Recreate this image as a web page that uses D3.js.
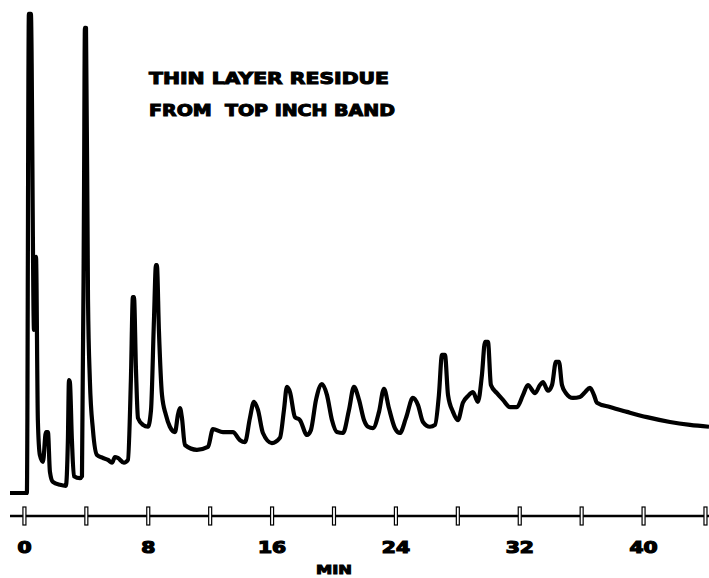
<!DOCTYPE html>
<html>
<head>
<meta charset="utf-8">
<script src="https://cdn.jsdelivr.net/npm/d3@7"></script>
<style>
  body { margin: 0; background: #fff; }
  svg { display: block; }
</style>
</head>
<body>
<div id="container"></div>
<script>
/* CONSTANTS AND GLOBALS */
const width = 709,
  height = 578;

// retention time (min) and detector signal (% of full scale)
const times = [-0.9, 0.19, 0.32, 0.45, 0.65, 0.78, 0.90, 1.03, 1.23, 1.42, 1.55, 1.68, 1.87,
  2.33, 2.71, 2.84, 2.91, 2.97, 3.10, 3.23, 3.62, 3.75, 3.88, 3.94, 4.01, 4.14, 4.26, 4.46,
  4.72, 5.10, 5.43, 5.69, 5.88, 6.07, 6.46, 6.72, 6.91, 7.04, 7.11, 7.24, 7.37, 7.69, 8.01,
  8.21, 8.40, 8.53, 8.59, 8.72, 8.92, 9.17, 9.43, 9.76, 9.95, 10.08, 10.21, 10.40, 11.18,
  11.89, 12.21, 12.86, 13.50, 13.96, 14.28, 14.60, 14.86, 15.12, 15.44, 16.02, 16.54, 16.80,
  16.99, 17.19, 17.51, 17.83, 18.29, 18.54, 18.87, 19.25, 19.58, 19.90, 20.22, 20.61, 21.00,
  21.32, 21.65, 21.97, 22.23, 22.55, 22.94, 23.26, 23.58, 23.97, 24.29, 24.68, 25.13, 25.46,
  25.78, 26.23, 26.56, 26.81, 27.01, 27.20, 27.40, 27.72, 28.04, 28.36, 28.69, 29.01, 29.33,
  29.59, 29.79, 29.98, 30.17, 30.56, 30.95, 31.40, 31.85, 32.24, 32.56, 33.02, 33.34, 33.53,
  33.86, 34.12, 34.37, 34.57, 34.76, 35.02, 35.47, 35.92, 36.25, 36.57, 36.83, 37.02, 37.86,
  38.96, 40.25, 41.74, 43.03, 44.26];

const signal = [0, 0, 99.8, 99.8, 34.0, 49.2, 15.2, 7.9, 6.5, 12.7, 12.7, 4.4, 2.3,
  1.7, 1.5, 11.0, 23.5, 23.1, 11.0, 3.5, 3.1, 3.5, 61.0, 96.9, 96.9, 40.2, 23.5, 13.1,
  7.9, 7.3, 6.9, 6.3, 7.5, 7.3, 6.3, 6.9, 23.5, 40.8, 40.8, 25.6, 15.6, 14.2, 13.8,
  17.3, 36.0, 47.5, 47.5, 34.0, 20.4, 16.3, 13.8, 12.7, 16.3, 17.7, 15.6, 10.0, 9.0,
  9.6, 13.3, 12.7, 12.7, 11.0, 10.6, 15.6, 19.0, 17.3, 12.5, 10.4, 11.5, 17.3,
  22.1, 21.0, 15.8, 15.2, 12.1, 13.1, 19.4, 22.7, 20.4, 15.2, 12.7, 12.5, 17.3,
  22.1, 19.4, 15.2, 13.8, 13.5, 16.9, 21.7, 17.7, 13.5, 12.5, 15.6, 19.8, 18.3,
  14.8, 13.8, 14.2, 20.4, 28.8, 28.8, 20.4, 16.9, 15.2, 18.8, 20.2, 21.0, 19.0,
  24.6, 31.5, 31.5, 22.5, 20.8, 19.4, 17.9, 17.9, 20.4, 22.5, 20.8, 22.5, 23.1,
  21.3, 22.5, 27.3, 27.3, 22.5, 20.8, 19.8, 20.0, 21.0, 21.9, 20.4, 18.8, 17.9,
  16.9, 15.8, 14.8, 14.2, 13.8];

const tickTimes = [0, 4, 8, 12, 16, 20, 24, 28, 32, 36, 40, 44];
const tickLabels = [0, 8, 16, 24, 32, 40];
const titleLines = ["THIN LAYER RESIDUE", "FROM  TOP INCH BAND"];
const axisTitle = "MIN";

const data = times.map((t, i) => ({ t: t, v: signal[i] }));

/* SCALES */
const x = d3.scaleLinear().domain([-0.9, 44.26]).range([10, 709]);
const y = d3.scaleLinear().domain([0, 100]).range([493, 13]);

/* SVG */
const svg = d3.select("#container")
  .append("svg")
  .attr("width", width)
  .attr("height", height);

// trace
const line = d3.line()
  .x(d => x(d.t))
  .y(d => y(d.v))
  .curve(d3.curveMonotoneX);

svg.append("path")
  .datum(data)
  .attr("d", line)
  .attr("fill", "none")
  .attr("stroke", "#000")
  .attr("stroke-width", 4.2)
  .attr("stroke-linejoin", "round");

// time axis
const axisY = 516;
svg.append("line")
  .attr("x1", x(-0.9)).attr("x2", x(44.26))
  .attr("y1", axisY).attr("y2", axisY)
  .attr("stroke", "#000")
  .attr("stroke-width", 2.4);

const xAxis = d3.axisBottom(x)
  .tickValues(tickTimes)
  .tickSize(0)
  .tickFormat(d => tickLabels.includes(d) ? d : "");

const gx = svg.append("g")
  .attr("transform", `translate(0,${axisY})`)
  .call(xAxis);

gx.select(".domain").remove();

gx.selectAll(".tick")
  .append("rect")
  .attr("x", -1.5)
  .attr("y", -9)
  .attr("width", 3)
  .attr("height", 18)
  .attr("fill", "#fff")
  .attr("stroke", "#000")
  .attr("stroke-width", 1.2);

gx.selectAll(".tick text")
  .attr("y", 37)
  .attr("dy", 0)
  .attr("transform", "scale(1.35,1)")
  .attr("fill", "#000")
  .attr("stroke", "#000")
  .attr("stroke-width", 1.2)
  .style("font-family", "DejaVu Sans")
  .style("font-weight", "bold")
  .style("font-size", "15px");

svg.append("text")
  .attr("x", 334)
  .attr("y", 574)
  .attr("text-anchor", "middle")
  .attr("textLength", 36)
  .attr("lengthAdjust", "spacingAndGlyphs")
  .attr("stroke", "#000")
  .attr("stroke-width", 1)
  .style("font-family", "DejaVu Sans")
  .style("font-weight", "bold")
  .style("font-size", "13px")
  .text(axisTitle);

// annotation
svg.selectAll(".title")
  .data(titleLines)
  .join("text")
  .attr("class", "title")
  .attr("x", 149)
  .attr("y", (d, i) => 84 + i * 32)
  .attr("textLength", (d, i) => i === 0 ? 240 : 246)
  .attr("lengthAdjust", "spacingAndGlyphs")
  .attr("stroke", "#000")
  .attr("stroke-width", 1)
  .style("font-family", "DejaVu Sans")
  .style("font-weight", "bold")
  .style("font-size", "15px")
  .style("white-space", "pre")
  .text(d => d);
</script>
</body>
</html>
